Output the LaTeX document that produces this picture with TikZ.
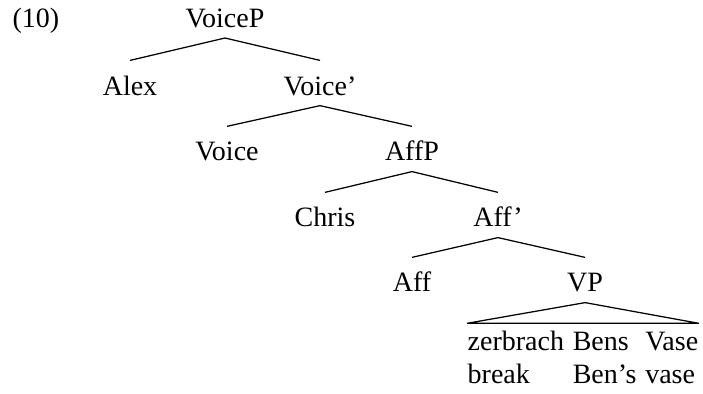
\documentclass[tikz,border=0pt]{standalone}
\usepackage{fontspec}
\setmainfont{Liberation Serif}
\tikzset{
  cat/.style={anchor=base, inner xsep=0pt, inner ysep=1pt, text height=12.6pt, text depth=3pt},
}
\begin{document}
\begin{tikzpicture}[every node/.style={font=\fontsize{11.2}{13.2}\selectfont}, line width=0.5pt]
      \useasboundingbox (0,0) rectangle (9.883,-5.539);
      \node[anchor=base west, inner sep=0pt] (ex) at (0.169,-0.385) {(10)};
      \node[cat] (voicep) at (3.163,-0.385) {VoiceP};
      \node[cat] (alex) at (1.828,-1.336) {Alex};
      \node[cat] (voicebar) at (4.499,-1.336) {Voice'};
      \node[cat] (voice) at (3.191,-2.263) {Voice};
      \node[cat] (affp) at (5.792,-2.263) {AffP};
      \node[cat] (chris) at (4.569,-3.191) {Chris};
      \node[cat] (affbar) at (7.001,-3.191) {Aff'};
      \node[cat] (aff) at (5.792,-4.105) {Aff};
      \node[cat] (vp) at (8.225,-4.105) {VP};
      \node[anchor=base west, inner xsep=0pt, inner ysep=1.2pt] (gloss) at (6.566,-4.921)
        {\begin{tabular}[t]{@{}l@{\hspace{3.5pt}}l@{\hspace{3.5pt}}l@{}}
          zerbrach & Bens & Vase\\
          break & Ben's & vase
        \end{tabular}};
      \draw (voicep.south) -- (alex.north);
      \draw (voicep.south) -- (voicebar.north);
      \draw (voicebar.south) -- (voice.north);
      \draw (voicebar.south) -- (affp.north);
      \draw (affp.south) -- (chris.north);
      \draw (affp.south) -- (affbar.north);
      \draw (affbar.south) -- (aff.north);
      \draw (affbar.south) -- (vp.north);
      \draw (vp.south) -- (gloss.north west) -- (gloss.north east) -- cycle;
\end{tikzpicture}
\end{document}
